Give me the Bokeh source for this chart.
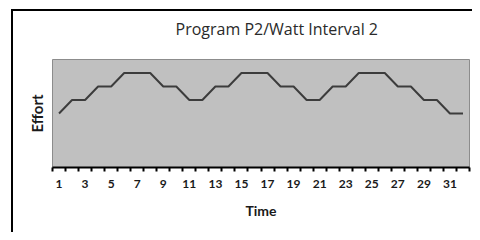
from bokeh.plotting import figure
from bokeh.models import FixedTicker, Range1d, InlineStyleSheet
from bokeh.embed import file_html
from bokeh.resources import INLINE

time = list(range(1, 33))
effort = [4, 5, 5, 6, 6, 7, 7, 7, 6, 6, 5, 5, 6, 6, 7, 7, 7, 6, 6, 5, 5, 6, 6, 7, 7, 7, 6, 6, 5, 5, 4, 4]
label_ticks = list(range(1, 32, 2))
boundary_ticks = [t - 0.5 for t in range(1, 34)]
title_text = "Program P2/Watt Interval 2"
x_title = "Time"
y_title = "Effort"

p = figure(width=472, height=232, output_backend="svg", toolbar_location=None,
           x_range=Range1d(0.5, 32.5), y_range=Range1d(0, 8),
           min_border_left=52, min_border_right=3, min_border_top=58, min_border_bottom=65)
p.background_fill_color = "#c0c0c0"
p.border_fill_color = "white"
p.outline_line_color = "#8c8c8c"
p.outline_line_width = 1
p.grid.visible = False

p.title.text = title_text
p.title.align = "left"
p.title.vertical_align = "top"
p.title.offset = 123
p.title.standoff = 35
p.title.text_font = "Open Sans"
p.title.text_font_size = "16px"
p.title.text_font_style = "normal"
p.title.text_color = "#2a2a2a"

# y axis: label only
p.yaxis.ticker = FixedTicker(ticks=[])
p.yaxis.axis_line_color = None
p.yaxis.major_tick_out = 0
p.yaxis.minor_tick_out = 0
p.yaxis.axis_label = y_title
p.yaxis.axis_label_text_font = "Lato"
p.yaxis.axis_label_text_font_style = "bold"
p.yaxis.axis_label_text_font_size = "15px"
p.yaxis.axis_label_text_color = "#1a1a1a"
p.yaxis.axis_label_standoff = 7

# x axis
p.xaxis.ticker = FixedTicker(ticks=label_ticks, minor_ticks=boundary_ticks)
p.xaxis.axis_line_color = "black"
p.xaxis.axis_line_width = 2
p.xaxis.major_tick_in = 0
p.xaxis.major_tick_out = 0
p.xaxis.minor_tick_in = 0
p.xaxis.minor_tick_out = 4
p.xaxis.minor_tick_line_color = "black"
p.xaxis.minor_tick_line_width = 2
p.xaxis.major_label_standoff = 8
p.xaxis.major_label_text_font = "Lato"
p.xaxis.major_label_text_font_style = "bold"
p.xaxis.major_label_text_font_size = "12px"
p.xaxis.major_label_text_color = "#1a1a1a"
p.xaxis.axis_label = x_title
p.xaxis.axis_label_text_font = "Lato"
p.xaxis.axis_label_text_font_style = "bold"
p.xaxis.axis_label_text_font_size = "14px"
p.xaxis.axis_label_text_color = "#1a1a1a"
p.xaxis.axis_label_standoff = 11

p.line(time, effort, line_color="#3c3c3c", line_width=2)

p.stylesheets = [InlineStyleSheet(css="""
:host::after {
  content: "";
  position: absolute;
  left: 11px; top: 9px; right: 0; bottom: 0;
  border-left: 2px solid #000;
  border-top: 2px solid #000;
  pointer-events: none;
}
""")]

open("out.html", "w").write(file_html(p, INLINE))
